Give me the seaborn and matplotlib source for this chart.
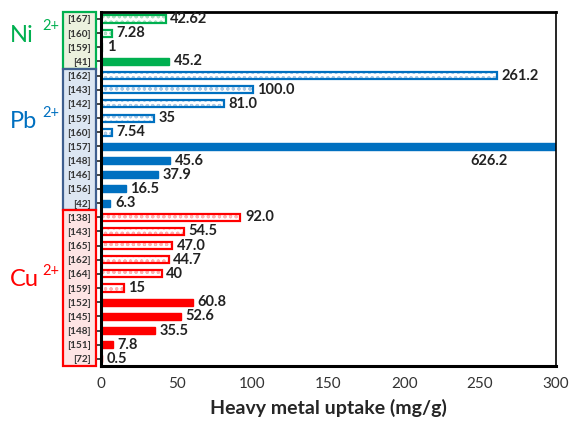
import matplotlib
matplotlib.use("Agg")
import matplotlib.pyplot as plt
from matplotlib.patches import Rectangle
import numpy as np
import pandas as pd
import seaborn as sns

# references, top to bottom
refs = ["[167]", "[160]", "[159]", "[41]",
        "[162]", "[143]", "[142]", "[159]", "[160]", "[157]", "[148]", "[146]", "[156]", "[42]",
        "[138]", "[143]", "[165]", "[162]", "[164]", "[159]", "[152]", "[145]", "[148]", "[151]", "[72]"]
uptake = [42.62, 7.28, 1, 45.2,
          261.2, 100.0, 81.0, 35, 7.54, 626.2, 45.6, 37.9, 16.5, 6.3,
          92.0, 54.5, 47.0, 44.7, 40, 15, 60.8, 52.6, 35.5, 7.8, 0.5]
value_text = ["42.62", "7.28", "1", "45.2",
              "261.2", "100.0", "81.0", "35", "7.54", "626.2", "45.6", "37.9", "16.5", "6.3",
              "92.0", "54.5", "47.0", "44.7", "40", "15", "60.8", "52.6", "35.5", "7.8", "0.5"]
metal = ["Ni"] * 4 + ["Pb"] * 10 + ["Cu"] * 11
hatched = [True, True, True, False,
           True, True, True, True, True, False, False, False, False, False,
           True, True, True, True, True, True, False, False, False, False, False]

colors = {"Ni": "#00B050", "Pb": "#0070C0", "Cu": "#FF0000"}
pale = {"Ni": "#A8DFC0", "Pb": "#A9C9E6", "Cu": "#FFB0B0"}
fills = {"Ni": "#EBF1DE", "Pb": "#DCE6F2", "Cu": "#FDE4E4"}
box_edge = {"Ni": "#00B050", "Pb": "#3F5F8F", "Cu": "#FF0000"}

df = pd.DataFrame({"row": [str(i) for i in range(len(refs))], "uptake": uptake, "metal": metal})

sns.set_style("white")
plt.rcParams["font.family"] = ["Lato", "DejaVu Sans"]
plt.rcParams["hatch.linewidth"] = 0.8

fig = plt.figure(figsize=(5.7, 4.25), dpi=100)
ax = fig.add_axes([0.177, 0.139, 0.798, 0.833])

sns.barplot(data=df, x="uptake", y="row", orient="h", hue="row",
            palette=[colors[m] for m in metal], legend=False, width=0.5, ax=ax)

for i, bar in enumerate(ax.patches[:len(refs)]):
    c = colors[metal[i]]
    if hatched[i]:
        bar.set_facecolor("white")
        bar.set_edgecolor(pale[metal[i]])
        bar.set_linewidth(0)
        bar.set_hatch("ooo")
        outline = Rectangle(bar.get_xy(), bar.get_width(), bar.get_height(),
                            fill=False, edgecolor=c, linewidth=1.6, zorder=bar.get_zorder() + 0.1)
        ax.add_patch(outline)
    else:
        bar.set_facecolor(c)
        bar.set_edgecolor(c)

ax.set_xlim(0, 300)
ax.set_ylim(len(refs) - 0.5, -0.5)

for i, (v, t) in enumerate(zip(uptake, value_text)):
    if v > 300:
        ax.text(256, i + 1, t, va="center", ha="center", fontsize=10.5, fontweight="bold", color="#222222")
    else:
        ax.text(v + 3, i, t, va="center", ha="left", fontsize=10.5, fontweight="bold", color="#222222")

ax.set_yticks(range(len(refs)))
ax.set_yticklabels(refs, fontsize=7.2, fontweight="bold", color="#333333")
ax.tick_params(axis="y", length=3, width=1.2, pad=4, direction="out", left=True)
ax.set_xticks([0, 50, 100, 150, 200, 250, 300])
ax.tick_params(axis="x", labelsize=11, colors="black", length=5, width=1.5, direction="in", labelcolor="#333333", pad=8)
ax.set_xlabel("Heavy metal uptake (mg/g)", fontsize=14, fontweight="bold", labelpad=6)
ax.set_ylabel("")

for s in ["left", "bottom", "top", "right"]:
    ax.spines[s].set_visible(True)
    ax.spines[s].set_color("black")
ax.spines["left"].set_linewidth(2.2)
ax.spines["bottom"].set_linewidth(2.2)
ax.spines["top"].set_linewidth(2.0)
ax.spines["right"].set_linewidth(1.2)

# reference boxes and metal labels
trans = ax.get_yaxis_transform()
groups = [("Ni", 0, 4), ("Pb", 4, 14), ("Cu", 14, 25)]
for m, a, b in groups:
    box = Rectangle((-0.084, a - 0.5), 0.074, b - a, transform=trans, clip_on=False,
                    facecolor=fills[m], edgecolor=box_edge[m], linewidth=1.6, zorder=0)
    ax.add_patch(box)

lab_y = {"Ni": 35, "Pb": 122, "Cu": 280}
for m, a, b in groups:
    y = 1 - lab_y[m] / 425
    fig.text(10 / 570, y, m, fontsize=17, color=colors[m], va="center", ha="left")
    fig.text(42 / 570, y + 0.022, "2+", fontsize=10.5, color=colors[m], va="center", ha="left")

fig.savefig("out.png", dpi=100)
